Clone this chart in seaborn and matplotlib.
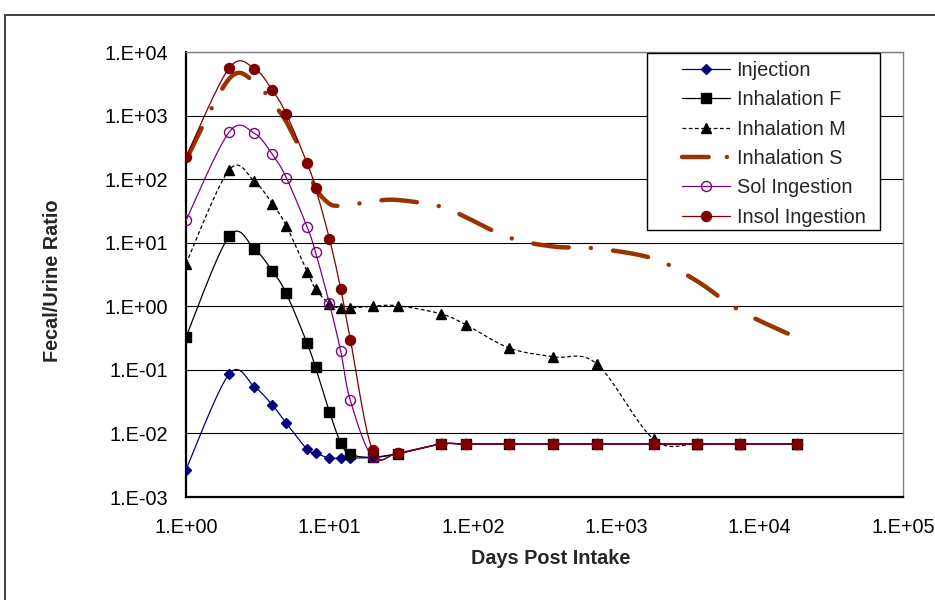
import numpy as np
import pandas as pd
import matplotlib
matplotlib.use("Agg")
import matplotlib.pyplot as plt
from matplotlib.lines import Line2D
from matplotlib.patches import Rectangle
from matplotlib.ticker import LogLocator, FuncFormatter, NullLocator
import seaborn as sns

# ---- data -------------------------------------------------------------
days = [1, 2, 3, 4, 5, 7, 8, 10, 12, 14, 20, 30, 60, 90, 180, 365, 730,
        1825, 3650, 7300, 18250]

injection = [0.0027, 0.086, 0.054, 0.028, 0.0145, 0.0056, 0.0049, 0.0041,
             0.0041, 0.0041, 0.0042, 0.0048, 0.0068, 0.0068, 0.0068, 0.0068,
             0.0068, 0.0068, 0.0068, 0.0068, 0.0068]
inhalation_f = [0.33, 12.7, 8.0, 3.6, 1.6, 0.26, 0.11, 0.022, 0.0071, 0.0047,
                0.0042, 0.0048, 0.0068, 0.0068, 0.0068, 0.0068, 0.0068,
                0.0068, 0.0068, 0.0068, 0.0068]
inhalation_m = [4.7, 140, 92, 41, 18.5, 3.5, 1.9, 1.08, 0.94, 0.94, 1.0, 1.02,
                0.76, 0.51, 0.22, 0.16, 0.125, 0.0081, 0.0068, 0.0068, 0.0068]
inhalation_s = [200, 3800, 3400, 1600, 800, 170, 72, 41, 38, 39, 45, 47, 37,
                25, 12, 8.7, 8.1, 5.6, 2.5, 0.85, 0.32]
sol_ingestion = [22.5, 550, 525, 245, 106, 17.6, 7.1, 1.11, 0.195, 0.033,
                 0.0042, 0.0049, 0.0068, 0.0068, 0.0068, 0.0068, 0.0068,
                 0.0068, 0.0068, 0.0068, 0.0068]
insol_ingestion = [224, 5600, 5500, 2500, 1070, 177, 73, 11.6, 1.88, 0.30,
                   0.0054, 0.0049, 0.0068, 0.0068, 0.0068, 0.0068, 0.0068,
                   0.0068, 0.0068, 0.0068, 0.0068]

series_names = ["Injection", "Inhalation F", "Inhalation M", "Inhalation S",
                "Sol Ingestion", "Insol Ingestion"]
x_label = "Days Post Intake"
y_label = "Fecal/Urine Ratio"

df = pd.DataFrame({"days": days,
                   "Injection": injection,
                   "Inhalation F": inhalation_f,
                   "Inhalation M": inhalation_m,
                   "Inhalation S": inhalation_s,
                   "Sol Ingestion": sol_ingestion,
                   "Insol Ingestion": insol_ingestion})

# ---- styles -----------------------------------------------------------
S_DASH = (8.0, 5.0, 0.01, 5.0)
styles = {
    "Injection": dict(color="#000080", lw=0.9, ls="-", marker="D", ms=4.6,
                      mfc="#000080"),
    "Inhalation F": dict(color="black", lw=0.9, ls="-", marker="s", ms=6.5,
                         mfc="black"),
    "Inhalation M": dict(color="black", lw=0.9, ls=(0, (3, 2)), marker="^",
                         ms=7.0, mfc="black"),
    "Inhalation S": dict(color="#993300", lw=3.2, ls=(0, S_DASH), marker=None,
                         ms=0, mfc="none"),
    "Sol Ingestion": dict(color="#800080", lw=0.9, ls="-", marker="o", ms=7.2,
                          mfc="none"),
    "Insol Ingestion": dict(color="#800000", lw=0.9, ls="-", marker="o", ms=7.2,
                            mfc="#800000"),
}


def smooth_curve(xs, ys, n=30):
    """Smoothed path through the points (cubic Bezier, Catmull-Rom tangents)
    computed in log-log space."""
    p = np.column_stack([np.log10(xs), np.log10(ys)])
    ext = np.vstack([p[0], p, p[-1]])
    parts = []
    for i in range(len(p) - 1):
        p0, p1, p2, p3 = ext[i], ext[i + 1], ext[i + 2], ext[i + 3]
        c1 = p1 + (p2 - p0) / 6.0
        c2 = p2 - (p3 - p1) / 6.0
        t = np.linspace(0, 1, n, endpoint=(i == len(p) - 2))[:, None]
        b = ((1 - t) ** 3) * p1 + 3 * (1 - t) ** 2 * t * c1 \
            + 3 * (1 - t) * t ** 2 * c2 + t ** 3 * p2
        parts.append(b)
    pts = np.vstack(parts)
    return 10 ** pts[:, 0], 10 ** pts[:, 1]


# ---- figure -----------------------------------------------------------
sns.set_style("white")
plt.rcParams["font.family"] = ["Liberation Sans", "DejaVu Sans"]
FS = 14.3

W, H = 935, 600
fig = plt.figure(figsize=(W / 100, H / 100), dpi=100)
ax = fig.add_axes([186 / W, 1 - 497 / H, (903 - 186) / W, (497 - 52) / H])
ax.set_xscale("log")
ax.set_yscale("log")
ax.set_xlim(1, 1e5)
ax.set_ylim(1e-3, 1e4)

for k, name in enumerate(series_names):
    st = styles[name]
    sx, sy = smooth_curve(df["days"].values, df[name].values)
    sns.lineplot(x=sx, y=sy, sort=False, estimator=None, ax=ax,
                 color=st["color"], linewidth=st["lw"], zorder=3 + k)
    line = ax.lines[-1]
    line.set_linestyle(st["ls"])
    if name == "Inhalation S":
        line.set_dash_capstyle("round")
        line.set_solid_capstyle("round")
    if st["marker"]:
        sns.lineplot(data=df, x="days", y=name, estimator=None, ax=ax,
                     linestyle="", marker=st["marker"], markersize=st["ms"],
                     markerfacecolor=st["mfc"], markeredgecolor=st["color"],
                     markeredgewidth=1.0, zorder=3.5 + k)

# axes decoration
fmt = FuncFormatter(lambda v, pos: "1.E{:+03d}".format(int(round(np.log10(v)))))
ax.xaxis.set_major_locator(LogLocator(base=10, numticks=10))
ax.yaxis.set_major_locator(LogLocator(base=10, numticks=10))
ax.xaxis.set_minor_locator(NullLocator())
ax.yaxis.set_minor_locator(NullLocator())
ax.xaxis.set_major_formatter(fmt)
ax.yaxis.set_major_formatter(fmt)
ax.tick_params(axis="both", which="major", direction="out", length=4,
               width=1.0, color="black", labelsize=FS, labelcolor="black")
ax.tick_params(axis="x", pad=11)
ax.tick_params(axis="y", pad=9)
ax.yaxis.grid(True, color="black", linewidth=0.8)
ax.xaxis.grid(False)
ax.set_axisbelow(True)
ax.set_xlabel("")
ax.set_ylabel("")
for side in ("left", "bottom"):
    ax.spines[side].set_color("black")
    ax.spines[side].set_linewidth(1.6)
for side in ("top", "right"):
    ax.spines[side].set_color("#808080")
    ax.spines[side].set_linewidth(1.0)

fig.text(551 / W, 1 - 558 / H, x_label, ha="center", va="center",
         fontsize=FS, fontweight="bold")
fig.text(53 / W, 1 - 281 / H, y_label, ha="center", va="center",
         rotation=90, fontsize=FS, fontweight="bold")

# legend box and entries
fig.add_artist(Rectangle((647 / W, 1 - 230 / H), (880 - 647) / W,
                         (230 - 53) / H, transform=fig.transFigure,
                         facecolor="white", edgecolor="black", linewidth=1.0,
                         zorder=2))
handles = []
for name in series_names:
    st = styles[name]
    if name == "Inhalation S":
        h = Line2D([], [], color=st["color"], linewidth=st["lw"],
                   linestyle=(0, (6.0, 4.1, 0.01, 10)),
                   dash_capstyle="round")
    else:
        h = Line2D([], [], color=st["color"], linewidth=st["lw"],
                   linestyle=st["ls"], marker=st["marker"],
                   markersize=st["ms"], markerfacecolor=st["mfc"],
                   markeredgecolor=st["color"], markeredgewidth=1.0)
    handles.append(h)
fig.legend(handles, series_names, loc="upper left",
           bbox_to_anchor=(682 / W, 1 - 61 / H), bbox_transform=fig.transFigure,
           frameon=False, borderpad=0, borderaxespad=0, handlelength=2.4,
           handletextpad=0.35, labelspacing=0.52, fontsize=FS,
           numpoints=1)

# outer chart border
fig.add_artist(Rectangle((5 / W, -0.1), 2.0, 1.1 - 15 / H,
                         transform=fig.transFigure, fill=False,
                         edgecolor="#404040", linewidth=1.4, zorder=1))

fig.savefig("out.png", dpi=100)
